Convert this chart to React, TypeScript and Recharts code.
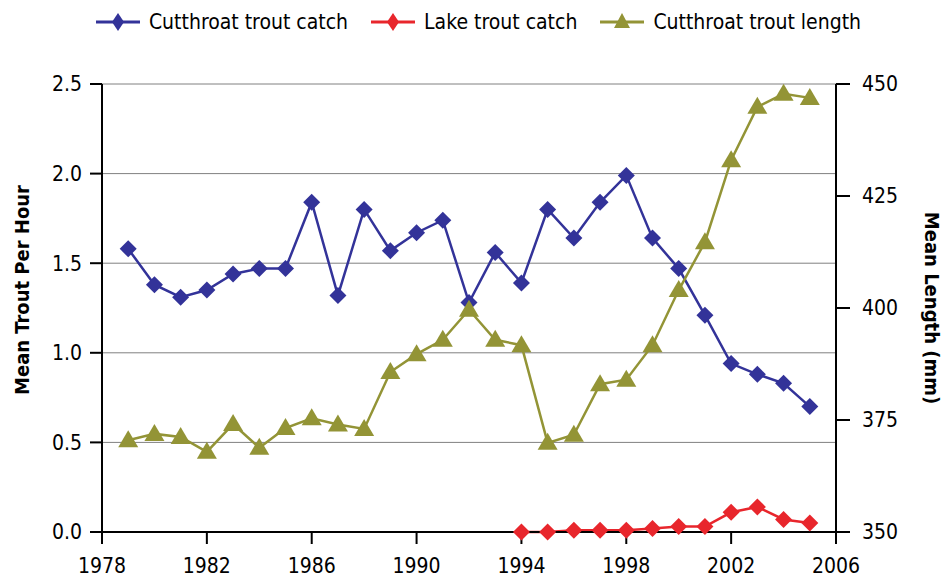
import React from 'react';
import {
  LineChart,
  Line,
  XAxis,
  YAxis,
  CartesianGrid,
} from 'recharts';

const years = [
  1979, 1980, 1981, 1982, 1983, 1984, 1985, 1986, 1987, 1988, 1989, 1990, 1991, 1992,
  1993, 1994, 1995, 1996, 1997, 1998, 1999, 2000, 2001, 2002, 2003, 2004, 2005,
];

const cutthroatCatch = [
  1.58, 1.38, 1.31, 1.35, 1.44, 1.47, 1.47, 1.84, 1.32, 1.8, 1.57, 1.67, 1.74, 1.28,
  1.56, 1.39, 1.8, 1.64, 1.84, 1.99, 1.64, 1.47, 1.21, 0.94, 0.88, 0.83, 0.7,
];

// lake trout only surveyed from 1994
const lakeCatch = [
  null, null, null, null, null, null, null, null, null, null, null, null, null, null,
  null, 0, 0, 0.01, 0.01, 0.01, 0.02, 0.03, 0.03, 0.11, 0.14, 0.07, 0.05,
];

const cutthroatLength = [
  370.5, 371.9, 371.2, 367.9, 374.1, 368.8, 373.2, 375.4, 374, 373, 385.7, 389.7, 392.9, 399.6,
  392.9, 391.7, 369.9, 371.7, 383, 384, 391.7, 404, 414.7, 433, 444.9, 447.8, 446.9,
];

const xTicks = [1978, 1982, 1986, 1990, 1994, 1998, 2002, 2006];
const leftTicks = [0, 0.5, 1, 1.5, 2, 2.5];
const rightTicks = [350, 375, 400, 425, 450];

const BLUE = '#333399';
const RED = '#e8262c';
const OLIVE = '#939436';
const FONT = "'Liberation Sans Narrow', 'DejaVu Sans Condensed', 'Roboto', sans-serif";

const data = years.map((year, i) => ({
  year,
  cutCatch: cutthroatCatch[i],
  lakeCatch: lakeCatch[i],
  length: cutthroatLength[i],
}));

const Diamond = (color: string) => (props: any) => {
  const { cx, cy, index } = props;
  if (cx == null || cy == null || props.value == null) return <g key={index} />;
  const r = 8.5;
  return (
    <polygon
      key={index}
      points={`${cx},${cy - r} ${cx + r},${cy} ${cx},${cy + r} ${cx - r},${cy}`}
      fill={color}
    />
  );
};

const Triangle = (color: string) => (props: any) => {
  const { cx, cy, index } = props;
  if (cx == null || cy == null) return <g key={index} />;
  return (
    <polygon
      key={index}
      points={`${cx},${cy - 10} ${cx + 10},${cy + 7} ${cx - 10},${cy + 7}`}
      fill={color}
    />
  );
};

const legendItems = [
  { label: 'Cutthroat trout catch', color: BLUE, shape: 'diamond' },
  { label: 'Lake trout catch', color: RED, shape: 'diamond' },
  { label: 'Cutthroat trout length', color: OLIVE, shape: 'triangle' },
];

const TopLegend = () => (
  <div
    style={{
      position: 'absolute',
      top: 9,
      left: 11,
      width: 956,
      display: 'flex',
      justifyContent: 'center',
      fontFamily: FONT,
      fontSize: 21,
      lineHeight: '26px',
      color: '#000',
    }}
  >
    {legendItems.map((item) => (
      <div key={item.label} style={{ display: 'flex', alignItems: 'center', marginRight: 22 }}>
        <svg width={46} height={22} style={{ marginRight: 8 }}>
          <line x1={1} y1={11} x2={45} y2={11} stroke={item.color} strokeWidth={3} />
          {item.shape === 'diamond' ? (
            <polygon points="23,2 29,11 23,20 17,11" fill={item.color} />
          ) : (
            <polygon points="23,2 31,17 15,17" fill={item.color} />
          )}
        </svg>
        <span>{item.label}</span>
      </div>
    ))}
  </div>
);

export default function App() {
  return (
    <div style={{ position: 'absolute', left: 0, top: 0, width: 946, height: 581, background: '#fff', overflow: 'hidden' }}>
      <TopLegend />
      <LineChart
        width={946}
        height={581}
        data={data}
        margin={{ top: 84, right: 30, left: 0, bottom: 0 }}
        style={{ fontFamily: FONT }}
      >
        <CartesianGrid horizontal vertical={false} stroke="#808080" yAxisId="left" />
        <XAxis
          dataKey="year"
          type="number"
          domain={[1978, 2006]}
          ticks={xTicks}
          allowDataOverflow
          stroke="#000"
          strokeWidth={2}
          tickSize={12}
          tickMargin={14}
          height={49}
          tick={{ fill: '#000', fontSize: 21, fontFamily: FONT }}
        />
        <YAxis
          yAxisId="left"
          domain={[0, 2.5]}
          ticks={leftTicks}
          tickFormatter={(v: number) => v.toFixed(1)}
          stroke="#000"
          strokeWidth={2}
          tickSize={12}
          tickMargin={8}
          width={102}
          tick={{ fill: '#000', fontSize: 21, fontFamily: FONT }}
          label={{
            value: 'Mean Trout Per Hour',
            angle: -90,
            position: 'insideLeft',
            offset: 22,
            dy: -18,
            style: { textAnchor: 'middle', fontWeight: 'bold', fontSize: 20, fill: '#000', fontFamily: FONT },
          }}
        />
        <YAxis
          yAxisId="right"
          orientation="right"
          domain={[350, 450]}
          ticks={rightTicks}
          stroke="#000"
          strokeWidth={2}
          tickSize={14}
          tickMargin={12}
          width={80}
          tick={{ fill: '#000', fontSize: 21, fontFamily: FONT }}
          label={{
            value: 'Mean Length (mm)',
            angle: 90,
            position: 'insideRight',
            offset: -16,
            style: { textAnchor: 'middle', fontWeight: 'bold', fontSize: 20, fill: '#000', fontFamily: FONT },
          }}
        />
        <Line
          yAxisId="left"
          dataKey="cutCatch"
          name="Cutthroat trout catch"
          stroke={BLUE}
          strokeWidth={2.5}
          dot={Diamond(BLUE)}
          isAnimationActive={false}
        />
        <Line
          yAxisId="left"
          dataKey="lakeCatch"
          name="Lake trout catch"
          stroke={RED}
          strokeWidth={2.5}
          dot={Diamond(RED)}
          isAnimationActive={false}
        />
        <Line
          yAxisId="right"
          dataKey="length"
          name="Cutthroat trout length"
          stroke={OLIVE}
          strokeWidth={2.5}
          dot={Triangle(OLIVE)}
          isAnimationActive={false}
        />
      </LineChart>
    </div>
  );
}
